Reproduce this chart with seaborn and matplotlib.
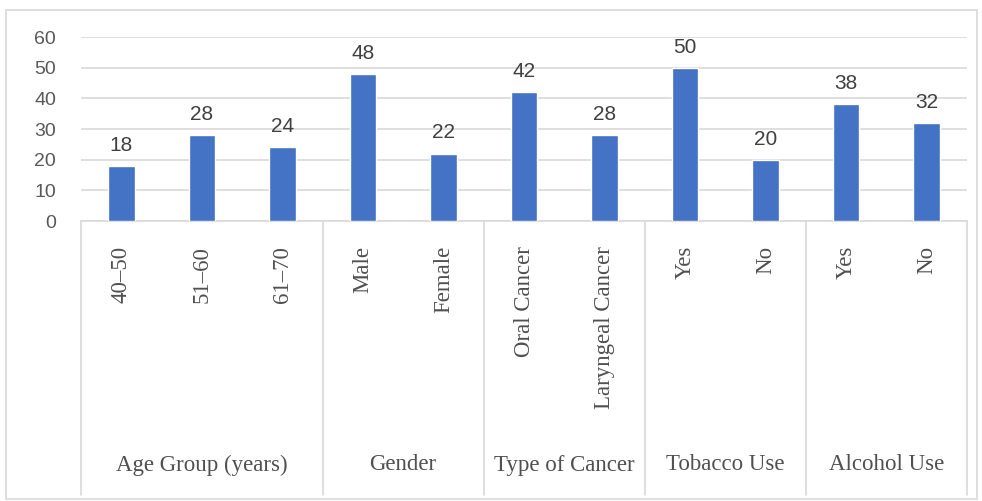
import seaborn as sns
import matplotlib.pyplot as plt
import matplotlib.transforms as mtransforms
from matplotlib.patches import Rectangle
import pandas as pd

# data
groups = ["Age Group (years)", "Gender", "Type of Cancer", "Tobacco Use", "Alcohol Use"]
group_items = [
    ["40–50", "51–60", "61–70"],
    ["Male", "Female"],
    ["Oral Cancer", "Laryngeal Cancer"],
    ["Yes", "No"],
    ["Yes", "No"],
]
values = [18, 28, 24, 48, 22, 42, 28, 50, 20, 38, 32]

rows = []
for g, items in zip(groups, group_items):
    for it in items:
        rows.append({"group": g, "item": it, "key": g + "|" + it})
df = pd.DataFrame(rows)
df["value"] = values

sns.set_style("white")
num_font = ["Liberation Sans", "DejaVu Sans"]
serif_font = ["Liberation Serif", "DejaVu Serif"]
grid_col = "#D9D9D9"
text_col = "#505050"

fig = plt.figure(figsize=(9.82, 5.01), dpi=100)
ax = fig.add_axes([81 / 982, 1 - 221 / 501, 886 / 982, (221 - 37) / 501])

sns.barplot(data=df, x="key", y="value", color="#4472C4", width=0.33,
            saturation=1, ax=ax, zorder=3)

ax.set_ylim(0, 60)
ax.set_xlim(-0.5, len(df) - 0.5)
ax.set_yticks(range(0, 61, 10))
ax.yaxis.grid(True, color=grid_col, linewidth=1.2, zorder=0)
ax.set_axisbelow(True)
for s in ["top", "right", "left"]:
    ax.spines[s].set_visible(False)
ax.spines["bottom"].set_color(grid_col)
ax.spines["bottom"].set_linewidth(1.2)
ax.set_xlabel("")
ax.set_ylabel("")

ax.tick_params(axis="y", length=0, pad=18, labelsize=14, labelcolor="#595959")
for lab in ax.get_yticklabels():
    lab.set_family(num_font)

ax.set_xticks(range(len(df)))
ax.set_xticklabels(df["item"], rotation=90, ha="center", va="top",
                   family=serif_font, fontsize=16.5, color=text_col)
ax.tick_params(axis="x", length=0, pad=18)

# value labels
for i, v in enumerate(df["value"]):
    ax.annotate(str(v), (i, v), xytext=(0, 8), textcoords="offset points",
                ha="center", va="bottom", fontsize=15, color="#404040",
                family=num_font)

# multi-level category box below the axis
trans = mtransforms.blended_transform_factory(ax.transData, fig.transFigure)
y_top = 1 - 221 / 501
y_bot = 1 - 495 / 501
bounds = [-0.5]
for items in group_items:
    bounds.append(bounds[-1] + len(items))
for b in bounds:
    ax.plot([b, b], [y_top, y_bot], transform=trans, color=grid_col,
            linewidth=1.2, clip_on=False)
for g, lo, hi in zip(groups, bounds[:-1], bounds[1:]):
    ax.text((lo + hi) / 2, 1 - 465 / 501, g, transform=trans, ha="center",
            va="center", family=serif_font, fontsize=16.5, color=text_col)

# outer chart border
fig.patches.append(Rectangle((6 / 982, 1 - 499 / 501), 971 / 982, 489 / 501,
                             transform=fig.transFigure, fill=False,
                             edgecolor=grid_col, linewidth=1.2))

fig.savefig("out.png", dpi=100)
